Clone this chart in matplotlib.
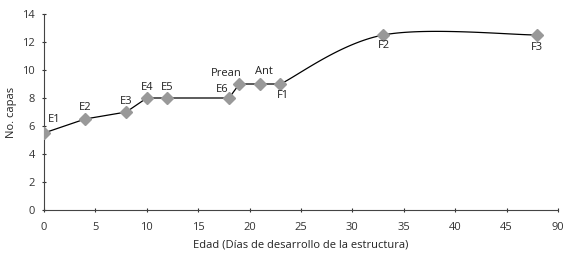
import numpy as np
import matplotlib.pyplot as plt

# stage labels, age (axis position) and number of layers
stages = ['E1', 'E2', 'E3', 'E4', 'E5', 'E6', 'Prean', 'Ant', 'F1', 'F2', 'F3']
edad = [0, 4, 8, 10, 12, 18, 19, 21, 23, 33, 48]
capas = [5.5, 6.5, 7, 8, 8, 8, 9, 9, 9, 12.5, 12.5]
xticks = [0, 5, 10, 15, 20, 25, 30, 35, 40, 45, 50]
xticklabels = ['0', '5', '10', '15', '20', '25', '30', '35', '40', '45', '90']

# label offsets in pixels (dx, dy)
offs = [(10, 13), (0, 11), (0, 11), (0, 11), (0, 11), (-7, 9), (-13, 11), (4, 12), (2, -11), (1, -11), (-1, -13)]


def smooth(x, y, n=40):
    # excel style smoothed line (cubic bezier, catmull-rom control points)
    x = np.asarray(x, float)
    y = np.asarray(y, float)
    px = np.concatenate([[x[0]], x, [x[-1]]])
    py = np.concatenate([[y[0]], y, [y[-1]]])
    xs, ys = [], []
    t = np.linspace(0, 1, n)
    for i in range(1, len(px) - 2):
        p0 = np.array([px[i], py[i]])
        p3 = np.array([px[i + 1], py[i + 1]])
        p1 = p0 + (np.array([px[i + 1], py[i + 1]]) - np.array([px[i - 1], py[i - 1]])) / 6
        p2 = p3 - (np.array([px[i + 2], py[i + 2]]) - np.array([px[i], py[i]])) / 6
        b = ((1 - t) ** 3)[:, None] * p0 + (3 * (1 - t) ** 2 * t)[:, None] * p1 \
            + (3 * (1 - t) * t ** 2)[:, None] * p2 + (t ** 3)[:, None] * p3
        xs.extend(b[:, 0])
        ys.extend(b[:, 1])
    return xs, ys


plt.rcParams['font.family'] = ['Open Sans', 'DejaVu Sans']
fig = plt.figure(figsize=(5.67, 2.57), dpi=100)
ax = fig.add_axes([44 / 567, 1 - 210 / 257, (558 - 44) / 567, (210 - 14) / 257])

# straight segments up to F1, smoothed curve F1-F2-F3
k = stages.index('F1')
ax.plot(edad[:k + 1], capas[:k + 1], color='black', lw=0.9, zorder=2)
sx, sy = smooth(edad[k:], capas[k:])
ax.plot(sx, sy, color='black', lw=0.9, zorder=2)
ax.plot(edad, capas, linestyle='none', marker='D', markersize=6, color='#999999', zorder=3)

for s, x, y, (dx, dy) in zip(stages, edad, capas, offs):
    ax.annotate(s, (x, y), xytext=(dx, dy), textcoords='offset pixels',
                ha='center', va='center', fontsize=8, color='#222222')

ax.set_xlim(0, 50)
ax.set_ylim(0, 14)
ax.set_xticks(xticks)
ax.set_xticklabels(xticklabels)
ax.set_yticks(range(0, 15, 2))
for side in ['top', 'right']:
    ax.spines[side].set_visible(False)
for side in ['left', 'bottom']:
    ax.spines[side].set_color('#444444')
    ax.spines[side].set_linewidth(0.8)
ax.tick_params(labelsize=8, colors='#333333', length=3, width=0.8, direction='inout')
ax.tick_params(axis='x', pad=7)
ax.tick_params(axis='y', pad=5)
ax.set_xlabel('Edad (Días de desarrollo de la estructura)', fontsize=8, color='#222222', labelpad=5)
ax.set_ylabel('No. capas', fontsize=8, color='#222222', labelpad=4)

fig.savefig('out.png', dpi=100)
